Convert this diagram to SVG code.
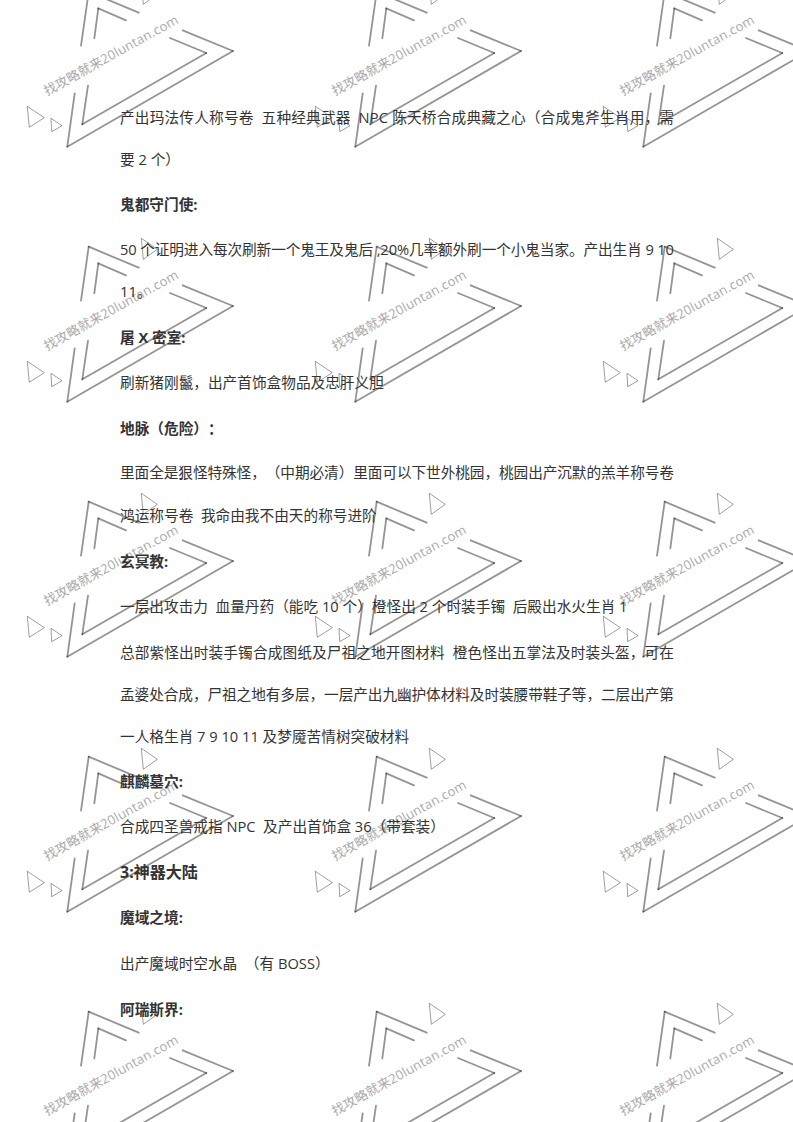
<svg xmlns="http://www.w3.org/2000/svg" width="793" height="1122" viewBox="0 0 793 1122">
<style>
.b{fill:none;stroke:#000;stroke-opacity:.42;stroke-width:1.8;stroke-linecap:round}
.s{fill:none;stroke:#000;stroke-opacity:.38;stroke-width:1;stroke-linejoin:round}
.wm{font:13px "Noto Sans CJK SC","Noto Sans",sans-serif;fill:#aaa}
.wl{font-family:"Open Sans","Noto Sans",sans-serif;font-size:13px;letter-spacing:.25px}
.t{font:14.67px "Open Sans","Noto Sans CJK SC",sans-serif;fill:#333;white-space:pre;text-spacing-trim:space-all}
.h{font-weight:700}
.h2{font:700 16px "Open Sans","Noto Sans CJK SC",sans-serif;fill:#333}
</style>
<defs>
<g id="tile">
<path class="b" d="M81 300.7L88.7 246.7"/><path class="b" d="M88.7 246.7L138.7 267.7"/>
<path class="b" d="M94.3 293.3L98.3 263.3"/><path class="b" d="M98.3 263.3L126 275.3"/>
<path class="b" d="M182.7 285.3L233 306"/><path class="b" d="M233 306L67.3 401.7"/><path class="b" d="M67.3 401.7L74.7 348.3"/>
<path class="b" d="M170 293L206.3 308"/><path class="b" d="M206.3 308L82.3 379.3"/><path class="b" d="M82.3 379.3L88 340.7"/>
<path class="s" d="M27.3 361.3L44.3 372.7L29.3 382.3Z"/>
<path class="s" d="M51 373.3L62 380.7L51.7 386.7Z"/>
<path class="s" d="M141.3 238.3L157.3 249.3L143.3 259.3Z"/>
<text class="wm" transform="translate(47 351) rotate(-29)">找攻略就来<tspan class="wl">20luntan.com</tspan></text>
</g>
</defs>
<g id="watermark">
<use href="#tile" x="0" y="-255"/><use href="#tile" x="288" y="-255"/><use href="#tile" x="576" y="-255"/>
<use href="#tile" x="0" y="0"/><use href="#tile" x="288" y="0"/><use href="#tile" x="576" y="0"/>
<use href="#tile" x="0" y="255"/><use href="#tile" x="288" y="255"/><use href="#tile" x="576" y="255"/>
<use href="#tile" x="0" y="510"/><use href="#tile" x="288" y="510"/><use href="#tile" x="576" y="510"/>
<use href="#tile" x="0" y="765"/><use href="#tile" x="288" y="765"/><use href="#tile" x="576" y="765"/>
</g>
<g id="body">
<text class="t" x="120" y="123" textLength="554" lengthAdjust="spacing">产出玛法传人称号卷  五种经典武器  NPC 陈天桥合成典藏之心（合成鬼斧生肖用，需</text>
<text class="t" x="120" y="165">要 2 个）</text>
<text class="t h" x="120" y="210">鬼都守门使:</text>
<text class="t" x="120" y="255" textLength="554" lengthAdjust="spacing">50 个证明进入每次刷新一个鬼王及鬼后 ,20%几率额外刷一个小鬼当家。产出生肖 9 10</text>
<text class="t" x="120" y="297">11。</text>
<text class="t h" x="120" y="343">屠 X 密室:</text>
<text class="t" x="120" y="388">刷新猪刚鬣，出产首饰盒物品及忠肝义胆</text>
<text class="t h" x="120" y="434">地脉（危险）：</text>
<text class="t" x="120" y="478" textLength="554" lengthAdjust="spacing">里面全是狠怪特殊怪，（中期必清）里面可以下世外桃园，桃园出产沉默的羔羊称号卷</text>
<text class="t" x="120" y="521">鸿运称号卷  我命由我不由天的称号进阶</text>
<text class="t h" x="120" y="567">玄冥教:</text>
<text class="t" x="120" y="612">一层出攻击力  血量丹药（能吃 10 个）橙怪出 2 个时装手镯  后殿出水火生肖 1</text>
<text class="t" x="120" y="658" textLength="554" lengthAdjust="spacing">总部紫怪出时装手镯合成图纸及尸祖之地开图材料  橙色怪出五掌法及时装头盔，可在</text>
<text class="t" x="120" y="700" textLength="554" lengthAdjust="spacing">孟婆处合成，尸祖之地有多层，一层产出九幽护体材料及时装腰带鞋子等，二层出产第</text>
<text class="t" x="120" y="742">一人格生肖 7 9 10 11 及梦魇苦情树突破材料</text>
<text class="t h" x="120" y="787">麒麟墓穴:</text>
<text class="t" x="120" y="832">合成四圣兽戒指 NPC  及产出首饰盒 36（带套装）</text>
<text class="h2" x="120" y="878">3:神器大陆</text>
<text class="t h" x="120" y="923">魔域之境:</text>
<text class="t" x="120" y="969">出产魔域时空水晶  （有 BOSS）</text>
<text class="t h" x="120" y="1015">阿瑞斯界:</text>
</g>
</svg>
